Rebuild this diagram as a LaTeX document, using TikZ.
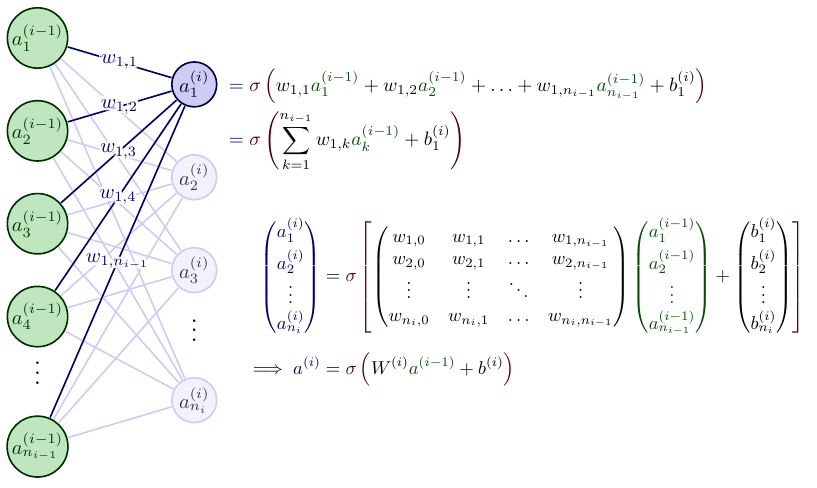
\documentclass[tikz,border=0pt]{standalone}
\usepackage{amsmath}
\usepackage{xcolor}
\colorlet{myblue}{blue!80!black}
\colorlet{mygreen}{green!60!black}
\colorlet{mydarkred}{red!30!black}
\colorlet{mydarkblue}{blue!40!black}
\colorlet{mydarkgreen}{green!30!black}
\newcommand{\wcont}[1]{%
  \foreach \ang in {0,22.5,...,337.5}{%
    \pgfmathsetlengthmacro\cdx{1.4pt*cos(\ang)}%
    \pgfmathsetlengthmacro\cdy{1.4pt*sin(\ang)}%
    \rlap{\kern\cdx\raisebox{\cdy}{\color{white}#1}}%
  }%
  #1}
\tikzset{
  neuron/.style={thick,circle,draw=myblue,minimum size=22,inner sep=0.5,outer sep=0.6},
  node in/.style={neuron,text=green!20!black,draw=mygreen!30!black,fill=mygreen!25,minimum size=29.2pt},
  node hidden/.style={neuron,text=blue!20!black,draw=myblue!30!black,fill=myblue!20},
  node light/.style={neuron,text=blue!20!black!80,draw=myblue!20,fill=myblue!5},
  connect/.style={thick,mydarkblue},
  connect light/.style={thick,myblue!20},
  connect under/.style={thick,white,line width=1.2},
}
\begin{document}
\begin{tikzpicture}[x=2.7cm,y=1.6cm]
  \useasboundingbox (-18.4pt,-151.9pt) rectangle (382.1pt,86.9pt);
  % input layer
  \node[node in] (NI-1) at (0,1.5) {$a_{1}^{(i-1)}$};
  \node[node in] (NI-2) at (0,0.5) {$a_{2}^{(i-1)}$};
  \node[node in] (NI-3) at (0,-0.5) {$a_{3}^{(i-1)}$};
  \node[node in] (NI-4) at (0,-1.5) {$a_{4}^{(i-1)}$};
  \node[node in] (NI-5) at (0,-2.9) {$a_{n_{i-1}}^{(i-1)}$};
  % output layer (light nodes)
  \node[node light] (NO-4) at (1,-2.4) {$a_{n_i}^{(i)}$};
  \foreach \j in {1,...,5}{\draw[connect light] (NI-\j) -- (NO-4);}
  \node[node light] (NO-3) at (1,-1) {$a_{3}^{(i)}$};
  \foreach \j in {1,...,5}{\draw[connect light] (NI-\j) -- (NO-3);}
  \node[node light] (NO-2) at (1,0) {$a_{2}^{(i)}$};
  \foreach \j in {1,...,5}{\draw[connect light] (NI-\j) -- (NO-2);}
  % highlighted node
  \node[node hidden] (NO-1) at (1,1) {$a_{1}^{(i)}$};
  \foreach \j/\lab in {1/1,2/2,3/3,4/4,5/{n_{i-1}}}{
    \draw[connect under] (NI-\j) -- (NO-1);
    \draw[connect] (NI-\j) -- (NO-1) node[pos=0.5] (W-\j) {\wcont{$w_{1,\lab}$}};
  }
  % dots
  \path (NI-5) -- ++(0,1.4) node[midway,scale=1.2] (DI) {$\vdots$};
  \path (NO-4) -- ++(0,1.4) node[midway,scale=1.2] (DO) {$\vdots$};
  % equations
  \newcommand\agr[1]{{\color{mydarkgreen}a_{#1}^{(i-1)}}}
  \node[anchor=west,xshift=11pt,yshift=-17.5pt,text=mydarkblue,scale=0.95] (EQ1) at (NO-1.center)
    {$\begin{aligned}
       &= \color{mydarkred}\sigma\left( \color{black}
            w_{1,1}\agr{1} + w_{1,2}\agr{2} + \ldots + w_{1,n_{i-1}}\agr{n_{i-1}} + b_1^{(i)}
          \color{mydarkred}\right)\\
       &= \color{mydarkred}\sigma\left( \color{black}
            \sum_{k=1}^{n_{i-1}} w_{1,k}\agr{k} + b_1^{(i)}
           \color{mydarkred}\right)
     \end{aligned}$};
  \node[right,scale=0.91,yshift=-2.3pt] (EQ2) at (1.3,-1.3)
    {$\begin{aligned}
      {\color{mydarkblue}
      \begin{pmatrix}
        a_{1}^{(i)} \\[0.3em]
        a_{2}^{(i)} \\
        \vdots \\
        a_{n_i}^{(i)}
      \end{pmatrix}}
      &=
      \color{mydarkred}\sigma\left[ \color{black}
      \begin{pmatrix}
        w_{1,0} & w_{1,1} & \ldots & w_{1,n_{i-1}} \\
        w_{2,0} & w_{2,1} & \ldots & w_{2,n_{i-1}} \\
        \vdots  & \vdots  & \ddots & \vdots  \\
        w_{n_i,0} & w_{n_i,1} & \ldots & w_{n_i,n_{i-1}}
      \end{pmatrix}
      {\color{mydarkgreen}\begin{pmatrix}
        a_{1}^{(i-1)} \\[0.3em]
        a_{2}^{(i-1)} \\
        \vdots \\
        a_{n_{i-1}}^{(i-1)}
      \end{pmatrix}}
      +
      \begin{pmatrix}
        b_{1}^{(i)} \\[0.3em]
        b_{2}^{(i)} \\
        \vdots \\
        b_{n_i}^{(i)}
      \end{pmatrix}
      \color{mydarkred}\right]\\[0.5em]
      \implies {\color{mydarkblue}a^{(i)}}
      &= \color{mydarkred}\sigma\left( \color{black}
           W^{(i)} {\color{mydarkgreen}a^{(i-1)}}+b^{(i)}
         \color{mydarkred}\right)
    \end{aligned}$};
\end{tikzpicture}
\end{document}
